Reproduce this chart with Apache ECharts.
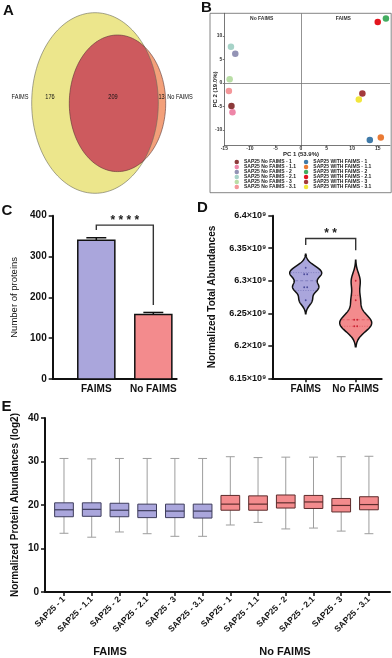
<!DOCTYPE html>
<html lang="en">
<head>
<meta charset="UTF-8">
<title>FAIMS vs No FAIMS</title>
<script src="https://cdn.jsdelivr.net/npm/echarts@6/dist/echarts.min.js"></script>
<style>html,body{margin:0;padding:0;background:#fff;}</style>
</head>
<body>
<div id="main" style="width:392px;height:658px;"></div>
<script>
// A - venn
var vennNames = ['FAIMS', 'No FAIMS'];
var vennCounts = [176, 209, 13]; // FAIMS only, shared, No FAIMS only

// B - PCA
var pcaNames = ['SAP25 No FAIMS - 1', 'SAP25 No FAIMS - 1.1', 'SAP25 No FAIMS - 2', 'SAP25 No FAIMS - 2.1',
    'SAP25 No FAIMS - 3', 'SAP25 No FAIMS - 3.1', 'SAP25 WITH FAIMS - 1', 'SAP25 WITH FAIMS - 1.1',
    'SAP25 WITH FAIMS - 2', 'SAP25 WITH FAIMS - 2.1', 'SAP25 WITH FAIMS - 3', 'SAP25 WITH FAIMS - 3.1'];
var pc1 = [-13.6, -13.4, -12.85, -13.7, -13.95, -14.1, 13.45, 15.6, 16.6, 15.0, 12.0, 11.3];
var pc2 = [-4.9, -6.2, 6.2, 7.7, 0.8, -1.7, -12.1, -11.6, 13.7, 13.0, -2.25, -3.5];
var pcaTicksX = [-15, -10, -5, 0, 5, 10, 15];
var pcaTicksY = [-10, -5, 0, 5, 10];

// C - protein counts
var groups = ['FAIMS', 'No FAIMS'];
var proteinMean = [340, 158];
var proteinErr = [6, 5];
var bracketC = [377, 365, 181]; // bar height, left leg end, right leg end

// D - total abundances
var totalFaims = [6.32e9, 6.31e9, 6.31e9, 6.29e9, 6.29e9, 6.27e9];
var totalNoFaims = [6.30e9, 6.27e9, 6.24e9, 6.24e9, 6.23e9, 6.23e9];
var bracketD = [6.365e9, 6.355e9, 6.347e9];

// E - protein abundance boxes (FAIMS runs then No FAIMS runs)
var runLabels = ['SAP25 - 1', 'SAP25 - 1.1', 'SAP25 - 2', 'SAP25 - 2.1', 'SAP25 - 3', 'SAP25 - 3.1'];
var boxMax = [30.7, 30.6, 30.7, 30.7, 30.7, 30.7, 31.1, 30.9, 31.0, 31.0, 31.1, 31.2];
var boxQ3 = [20.5, 20.5, 20.4, 20.2, 20.2, 20.2, 22.2, 22.1, 22.3, 22.2, 21.5, 21.9];
var boxMed = [18.9, 19.0, 18.8, 18.7, 18.6, 18.6, 20.2, 20.2, 20.5, 20.7, 19.9, 20.1];
var boxQ1 = [17.3, 17.4, 17.3, 17.1, 17.1, 17.0, 18.8, 18.8, 19.3, 19.2, 18.4, 18.9];
var boxMin = [13.5, 12.6, 13.8, 13.4, 12.8, 12.8, 15.4, 16.0, 14.5, 14.7, 14.0, 13.4];

var FONT = 'Arial, "Liberation Sans", sans-serif';
var pcaColors = ['#8c3a3a', '#ee86a8', '#9393b5', '#a7d3c8', '#b9dea6', '#f4979a',
    '#3f7aa8', '#ea7a34', '#43ad60', '#e3161f', '#a3393c', '#f2e63c'];
var groupFill = ['#aaa6dc', '#f38b8d'];
var groupDark = ['#3e3d5c', '#5c2c2c'];
var dotColor = ['#4b4b9a', '#cc2233'];

// venn ellipses in panel units (x right, y down)
var vennLayout = [
    {cx: 95, cy: 103, rx: 63.3, ry: 90.3, fill: '#ece68c'},
    {cx: 117.5, cy: 103.3, rx: 48.2, ry: 68.3, fill: '#f3a07a'}
];
var vennLabelX = [20, 50, 113, 161.5, 180];

function rayToEllipse(e, px, py, dx, dy) {
    var ox = px - e.cx, oy = py - e.cy;
    var a = dx * dx / (e.rx * e.rx) + dy * dy / (e.ry * e.ry);
    var b = 2 * (ox * dx / (e.rx * e.rx) + oy * dy / (e.ry * e.ry));
    var c = ox * ox / (e.rx * e.rx) + oy * oy / (e.ry * e.ry) - 1;
    return (-b + Math.sqrt(b * b - 4 * a * c)) / (2 * a);
}

function renderVenn(params, api) {
    var n = 160, i, t;
    var rings = vennLayout.map(function (e) {
        var pts = [];
        for (i = 0; i < n; i++) {
            t = i / n * Math.PI * 2;
            pts.push(api.coord([e.cx + e.rx * Math.cos(t), e.cy + e.ry * Math.sin(t)]));
        }
        return pts;
    });
    var o = vennLayout[1], both = [];
    for (i = 0; i < n; i++) {
        t = i / n * Math.PI * 2;
        var dx = Math.cos(t), dy = Math.sin(t);
        var r = Math.min(rayToEllipse(vennLayout[0], o.cx, o.cy, dx, dy), rayToEllipse(o, o.cx, o.cy, dx, dy));
        both.push(api.coord([o.cx + r * dx, o.cy + r * dy]));
    }
    var kids = [
        {type: 'polygon', shape: {points: rings[0]}, style: {fill: vennLayout[0].fill, stroke: null}},
        {type: 'polygon', shape: {points: rings[1]}, style: {fill: vennLayout[1].fill, stroke: null}},
        {type: 'polygon', shape: {points: both}, style: {fill: '#cd5a5e', stroke: null}},
        {type: 'polygon', shape: {points: rings[0]}, style: {fill: null, stroke: '#6a6a5a', lineWidth: 0.6}},
        {type: 'polygon', shape: {points: rings[1]}, style: {fill: null, stroke: '#5a3a3a', lineWidth: 0.6}}
    ];
    var texts = [vennNames[0], vennCounts[0], vennCounts[1], vennCounts[2], vennNames[1]];
    texts.forEach(function (s, k) {
        var p = api.coord([vennLabelX[k], 97]);
        // condensed look of the original labels
        kids.push({type: 'text', x: p[0], y: p[1], scaleX: 0.78, style: {text: String(s), align: 'center',
            verticalAlign: 'middle', fontSize: 7.2, fontFamily: FONT, fill: '#111'}});
    });
    return {type: 'group', children: kids};
}

function renderBar(params, api) {
    var x = api.value(0), v = api.value(1), err = api.value(2);
    var p0 = api.coord([x - 0.325, v]);
    var p1 = api.coord([x + 0.325, 0]);
    var top = api.coord([x, v + err]);
    var cap = api.size([0.175, 0])[0];
    var line = {stroke: '#111', lineWidth: 1.5};
    return {type: 'group', children: [
        {type: 'line', shape: {x1: top[0], y1: top[1], x2: top[0], y2: p0[1]}, style: line},
        {type: 'line', shape: {x1: top[0] - cap, y1: top[1], x2: top[0] + cap, y2: top[1]}, style: line},
        {type: 'rect', shape: {x: p0[0], y: p0[1], width: p1[0] - p0[0], height: p1[1] - p0[1]},
            style: {fill: groupFill[params.dataIndex], stroke: '#111', lineWidth: 1.5}}
    ]};
}

function makeBracket(label) {
    return function (params, api) {
        var a = api.coord([api.value(0), api.value(3)]);
        var b = api.coord([api.value(0), api.value(2)]);
        var c = api.coord([api.value(1), api.value(2)]);
        var d = api.coord([api.value(1), api.value(4)]);
        return {type: 'group', children: [
            {type: 'polyline', shape: {points: [a, b, c, d]}, style: {stroke: '#333', lineWidth: 1.4, fill: null}},
            {type: 'text', x: (b[0] + c[0]) / 2, y: b[1] - 4.5, style: {text: label, align: 'center',
                verticalAlign: 'middle', fontSize: 12, fontWeight: 'bold', fontFamily: FONT, fill: '#222'}}
        ]};
    };
}

var violinSamples = [totalFaims, totalNoFaims];

// gaussian kde, bandwidth from the spread of each group
function bandwidth(sample) {
    var n = sample.length, m = 0, v = 0, i;
    for (i = 0; i < n; i++) m += sample[i] / n;
    for (i = 0; i < n; i++) v += (sample[i] - m) * (sample[i] - m) / (n - 1);
    return 0.62 * Math.sqrt(v) * Math.pow(n, -0.2);
}

function density(sample, bw, y) {
    var s = 0;
    for (var i = 0; i < sample.length; i++) {
        var u = (y - sample[i]) / bw;
        s += Math.exp(-0.5 * u * u);
    }
    return s;
}

function quantile(sorted, p) {
    var r = (sorted.length + 1) * p - 1;
    var lo = Math.max(0, Math.floor(r)), hi = Math.min(sorted.length - 1, lo + 1);
    return sorted[lo] + (sorted[hi] - sorted[lo]) * (r - lo);
}

function renderViolin(params, api) {
    var gx = api.value(0), gi = api.value(1);
    var sample = violinSamples[gi];
    var bw = bandwidth(sample);
    var lo = Math.min.apply(null, sample) - 2.6 * bw;
    var hi = Math.max.apply(null, sample) + 2.6 * bw;
    var n = 120, ys = [], ds = [], maxD = 0, k;
    for (k = 0; k <= n; k++) {
        var y = lo + (hi - lo) * k / n;
        var d = density(sample, bw, y);
        ys.push(y); ds.push(d);
        if (d > maxD) maxD = d;
    }
    var half = 0.32;
    var left = [], right = [];
    for (k = 0; k <= n; k++) {
        var w = half * ds[k] / maxD;
        left.push(api.coord([gx - w, ys[k]]));
        right.unshift(api.coord([gx + w, ys[k]]));
    }
    var kids = [{type: 'polygon', shape: {points: left.concat(right)},
        style: {fill: groupFill[gi], stroke: '#111', lineWidth: 1.5}}];
    var sorted = sample.slice().sort(function (a, b) { return a - b; });
    [[0.25, [1, 1.5]], [0.5, [3, 2]], [0.75, [1, 1.5]]].forEach(function (q) {
        var v = quantile(sorted, q[0]);
        var w = half * density(sample, bw, v) / maxD;
        var a = api.coord([gx - w, v]), b = api.coord([gx + w, v]);
        kids.push({type: 'line', shape: {x1: a[0] + 1, y1: a[1], x2: b[0] - 1, y2: b[1]},
            style: {stroke: dotColor[gi], lineWidth: 0.6, lineDash: q[1], opacity: 0.7}});
    });
    var seen = {};
    sample.forEach(function (v) {
        var cnt = sample.filter(function (s) { return s === v; }).length;
        var j = seen[v] || 0;
        seen[v] = j + 1;
        var p = api.coord([gx, v]);
        kids.push({type: 'circle', shape: {cx: p[0] + (j - (cnt - 1) / 2) * 3, cy: p[1], r: 0.9},
            style: {fill: dotColor[gi]}});
    });
    return {type: 'group', children: kids};
}

function renderBox(params, api) {
    var x = api.value(0), gi = api.value(6);
    var pMin = api.coord([x, api.value(1)]);
    var pQ1 = api.coord([x, api.value(2)]);
    var pMed = api.coord([x, api.value(3)]);
    var pQ3 = api.coord([x, api.value(4)]);
    var pMax = api.coord([x, api.value(5)]);
    var bw = api.size([0.675, 0])[0] / 2;
    var cw = api.size([0.32, 0])[0] / 2;
    var wh = {stroke: '#9d9d9d', lineWidth: 1};
    return {type: 'group', children: [
        {type: 'line', shape: {x1: pMin[0], y1: pMin[1], x2: pMax[0], y2: pMax[1]}, style: wh},
        {type: 'line', shape: {x1: pMin[0] - cw, y1: pMin[1], x2: pMin[0] + cw, y2: pMin[1]}, style: wh},
        {type: 'line', shape: {x1: pMax[0] - cw, y1: pMax[1], x2: pMax[0] + cw, y2: pMax[1]}, style: wh},
        {type: 'rect', shape: {x: pQ3[0] - bw, y: pQ3[1], width: 2 * bw, height: pQ1[1] - pQ3[1]},
            style: {fill: groupFill[gi], stroke: groupDark[gi], lineWidth: 1}},
        {type: 'line', shape: {x1: pMed[0] - bw, y1: pMed[1], x2: pMed[0] + bw, y2: pMed[1]},
            style: {stroke: groupDark[gi], lineWidth: 1.2}}
    ]};
}

var eLabels = runLabels.concat(runLabels);
var eTicks = eLabels.map(function (s, i) { return i + 1; });
var boxData = eLabels.map(function (s, i) {
    return [i + 1, boxMin[i], boxQ1[i], boxMed[i], boxQ3[i], boxMax[i], i < 6 ? 0 : 1];
});

var blackAxis = {onZero: false, lineStyle: {color: '#111', width: 2}};
var blackTick = {length: 4, lineStyle: {color: '#111', width: 1.5}};
var boldLabel = {fontSize: 10, fontWeight: 'bold', color: '#111', fontFamily: FONT};
var greyAxis = {onZero: false, lineStyle: {color: '#555', width: 0.8}};

var pcaSeries = pcaNames.map(function (name, i) {
    var s = {
        type: 'scatter', name: name, xAxisIndex: 1, yAxisIndex: 1,
        symbolSize: 6.5, itemStyle: {color: pcaColors[i], opacity: 1},
        data: [[pc1[i], pc2[i]]], z: 3
    };
    if (i === 0) {
        s.markLine = {silent: true, symbol: 'none', label: {show: false}, animation: false,
            lineStyle: {color: '#777', width: 0.8, type: 'solid'},
            data: [{xAxis: 0}, {yAxis: 0}]};
    }
    return s;
});

var legendBase = {orient: 'vertical', top: 159.6, itemWidth: 4.5, itemHeight: 4.7, itemGap: 0,
    padding: 0, icon: 'circle', selectedMode: false,
    textStyle: {fontSize: 5, fontWeight: 'bold', color: '#222', lineHeight: 4.7, fontFamily: FONT}};

var chart = echarts.init(document.getElementById('main'));
var option = {
    animation: false,
    textStyle: {fontFamily: FONT},
    grid: [
        {left: 0, top: 0, width: 195, height: 200, outerBoundsMode: 'none'},
        {left: 224.3, top: 13.3, width: 165.7, height: 131.7, outerBoundsMode: 'none'},
        {left: 52.7, top: 215.7, width: 124, height: 163.3, outerBoundsMode: 'none'},
        {left: 272.3, top: 215.7, width: 109.4, height: 162.6, outerBoundsMode: 'none'},
        {left: 45, top: 418, width: 345, height: 174, outerBoundsMode: 'none'}
    ],
    legend: [
        Object.assign({left: 234.5, data: pcaNames.slice(0, 6)}, legendBase),
        Object.assign({left: 303.8, data: pcaNames.slice(6)}, legendBase)
    ],
    xAxis: [
        {gridIndex: 0, type: 'value', min: 0, max: 195, show: false},
        {gridIndex: 1, type: 'value', min: -15, max: 17.4, axisLine: greyAxis,
            axisTick: {customValues: pcaTicksX, length: 1.5, lineStyle: {color: '#555', width: 0.8}},
            axisLabel: {customValues: pcaTicksX, fontSize: 5, fontWeight: 'bold', color: '#333', margin: 1.5},
            splitLine: {show: false}},
        {gridIndex: 2, type: 'value', min: 0.235, max: 2.41, axisLine: blackAxis, axisTick: {show: false},
            axisLabel: Object.assign({customValues: [1, 2], margin: 5,
                formatter: function (v) { return groups[Math.round(v) - 1]; }}, boldLabel),
            splitLine: {show: false}},
        {gridIndex: 3, type: 'value', min: 0.332, max: 2.52, axisLine: blackAxis,
            axisTick: Object.assign({customValues: [1, 2]}, blackTick),
            axisLabel: Object.assign({customValues: [1, 2], margin: 6,
                formatter: function (v) { return groups[Math.round(v) - 1]; }}, boldLabel),
            splitLine: {show: false}},
        {gridIndex: 4, type: 'value', min: 0.315, max: 12.76, axisLine: blackAxis,
            axisTick: Object.assign({customValues: eTicks}, blackTick),
            axisLabel: {customValues: eTicks, rotate: 45, margin: 6, fontSize: 8.5, fontWeight: 'bold',
                color: '#111', formatter: function (v) { return eLabels[Math.round(v) - 1]; }},
            splitLine: {show: false}}
    ],
    yAxis: [
        {gridIndex: 0, type: 'value', min: 0, max: 200, inverse: true, show: false},
        {gridIndex: 1, type: 'value', min: -13.19, max: 14.83, axisLine: Object.assign({show: true}, greyAxis),
            axisTick: {show: true, customValues: pcaTicksY, length: 1.5, lineStyle: {color: '#555', width: 0.8}},
            axisLabel: {customValues: pcaTicksY, fontSize: 5, fontWeight: 'bold', color: '#333', margin: 2},
            splitLine: {show: false}},
        {gridIndex: 2, type: 'value', min: 0, max: 400, interval: 100,
            axisLine: Object.assign({show: true}, blackAxis), axisTick: Object.assign({show: true}, blackTick),
            axisLabel: Object.assign({margin: 6}, boldLabel), splitLine: {show: false},
            name: 'Number of proteins', nameLocation: 'middle', nameGap: 33, nameMoveOverlap: false,
            nameTextStyle: {fontSize: 9.5, color: '#111', fontFamily: FONT}},
        {gridIndex: 3, type: 'value', min: 6.15e9, max: 6.4e9, interval: 5e7,
            axisLine: Object.assign({show: true}, blackAxis), axisTick: Object.assign({show: true}, blackTick),
            axisLabel: {margin: 6, fontSize: 9, fontWeight: 'bold', color: '#111',
                formatter: function (v) { return parseFloat((v / 1e9).toFixed(2)) + '×10⁹'; }},
            splitLine: {show: false},
            name: 'Normalized Total Abundances', nameLocation: 'middle', nameGap: 55.5, nameMoveOverlap: false,
            nameTextStyle: {fontSize: 10, fontWeight: 'bold', color: '#111', fontFamily: FONT}},
        {gridIndex: 4, type: 'value', min: 0, max: 40, interval: 10,
            axisLine: Object.assign({show: true}, blackAxis), axisTick: Object.assign({show: true}, blackTick),
            axisLabel: Object.assign({margin: 6}, boldLabel), splitLine: {show: false},
            name: 'Normalized Protein Abundances (log2)', nameLocation: 'middle', nameGap: 25, nameMoveOverlap: false,
            nameTextStyle: {fontSize: 10, fontWeight: 'bold', color: '#111', fontFamily: FONT}}
    ],
    series: [
        {type: 'custom', xAxisIndex: 0, yAxisIndex: 0, silent: true, renderItem: renderVenn, data: [[0, 0]]}
    ].concat(pcaSeries).concat([
        {type: 'custom', xAxisIndex: 2, yAxisIndex: 2, silent: true, renderItem: renderBar,
            data: groups.map(function (g, i) { return [i + 1, proteinMean[i], proteinErr[i]]; })},
        {type: 'custom', xAxisIndex: 2, yAxisIndex: 2, silent: true, renderItem: makeBracket('* * * *'),
            data: [[1, 2, bracketC[0], bracketC[1], bracketC[2]]]},
        {type: 'custom', xAxisIndex: 3, yAxisIndex: 3, silent: true, renderItem: renderViolin,
            data: [[1, 0], [2, 1]]},
        {type: 'custom', xAxisIndex: 3, yAxisIndex: 3, silent: true, renderItem: makeBracket('* *'),
            data: [[1, 2, bracketD[0], bracketD[1], bracketD[2]]]},
        {type: 'custom', xAxisIndex: 4, yAxisIndex: 4, silent: true, renderItem: renderBox, data: boxData}
    ]),
    graphic: [
        {type: 'rect', silent: true, shape: {x: 210, y: 13.3, width: 181.2, height: 179.4},
            style: {fill: null, stroke: '#666', lineWidth: 0.8}},
        {type: 'text', x: 3, y: 10.5, style: {text: 'A', fontSize: 15, fontWeight: 'bold', fill: '#111', verticalAlign: 'middle', fontFamily: FONT}},
        {type: 'text', x: 201, y: 7.5, style: {text: 'B', fontSize: 15, fontWeight: 'bold', fill: '#111', verticalAlign: 'middle', fontFamily: FONT}},
        {type: 'text', x: 1.5, y: 210.5, style: {text: 'C', fontSize: 15, fontWeight: 'bold', fill: '#111', verticalAlign: 'middle', fontFamily: FONT}},
        {type: 'text', x: 197, y: 208, style: {text: 'D', fontSize: 15, fontWeight: 'bold', fill: '#111', verticalAlign: 'middle', fontFamily: FONT}},
        {type: 'text', x: 1.5, y: 406.5, style: {text: 'E', fontSize: 15, fontWeight: 'bold', fill: '#111', verticalAlign: 'middle', fontFamily: FONT}},
        {type: 'text', x: 261.7, y: 18.5, style: {text: 'No FAIMS', fontSize: 5, fontWeight: 'bold', fill: '#333', align: 'center', verticalAlign: 'middle', fontFamily: FONT}},
        {type: 'text', x: 343.3, y: 18.5, style: {text: 'FAIMS', fontSize: 5, fontWeight: 'bold', fill: '#333', align: 'center', verticalAlign: 'middle', fontFamily: FONT}},
        {type: 'text', x: 301, y: 154, style: {text: 'PC 1 (53.9%)', fontSize: 6, fontWeight: 'bold', fill: '#222', align: 'center', verticalAlign: 'middle', fontFamily: FONT}},
        {type: 'text', x: 215.7, y: 89.5, rotation: Math.PI / 2, style: {text: 'PC 2 (19.0%)', fontSize: 6, fontWeight: 'bold', fill: '#222', align: 'center', verticalAlign: 'middle', fontFamily: FONT}},
        {type: 'text', x: 110, y: 652, style: {text: 'FAIMS', fontSize: 11, fontWeight: 'bold', fill: '#111', align: 'center', verticalAlign: 'middle', fontFamily: FONT}},
        {type: 'text', x: 285, y: 652, style: {text: 'No FAIMS', fontSize: 11, fontWeight: 'bold', fill: '#111', align: 'center', verticalAlign: 'middle', fontFamily: FONT}}
    ]
};
chart.setOption(option);
</script>
</body>
</html>
